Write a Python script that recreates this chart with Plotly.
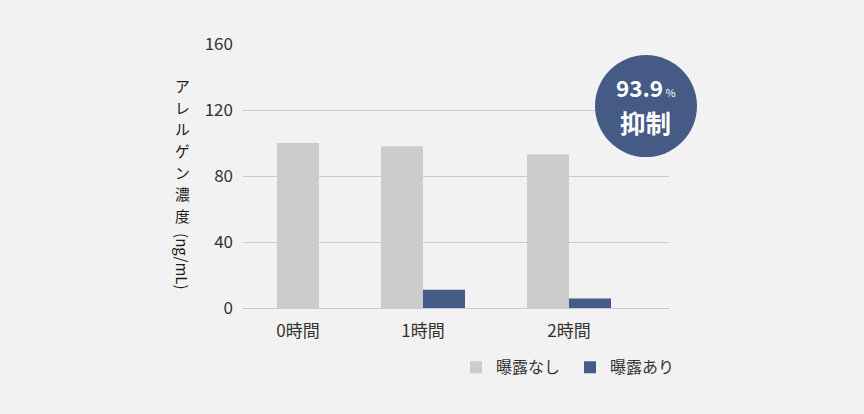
import plotly.graph_objects as go

# ---- data ----
categories = ["0時間", "1時間", "2時間"]
no_exposure = [100, 98, 93]          # 曝露なし
with_exposure = [None, 11, 5.7]      # 曝露あり
series_names = ["曝露なし", "曝露あり"]
y_ticks = [0, 40, 80, 120, 160]
badge_value = "93.9"
badge_unit = "%"
badge_label = "抑制"
y_title_jp = "アレルゲン濃度"
y_title_unit = "(ng/mL)"

# ---- layout constants ----
group_x = [55, 180, 326]   # group anchor positions on the x axis
bar_w = 42
gray_offsets = [-bar_w / 2, -bar_w, -bar_w]
blue_offsets = [0, 0, 0]

FONT = "Noto Sans CJK JP"
GRAY = "#cccccc"
BLUE = "#455a85"
TXT = "#333333"
GRID = "#c9cad3"

PLOT_TOP, PLOT_H = 44, 264   # plot area in pixels (for paper-coord conversion)


def py_to_paper(py):
    return (PLOT_TOP + PLOT_H - py) / PLOT_H


fig = go.Figure()
fig.add_trace(go.Bar(
    x=group_x, y=no_exposure, name=series_names[0],
    width=bar_w, offset=gray_offsets, marker_color=GRAY,
    marker_line_width=0,
))
fig.add_trace(go.Bar(
    x=group_x, y=with_exposure, name=series_names[1],
    width=bar_w, offset=blue_offsets, marker_color=BLUE,
    marker_line_width=0,
))

fig.update_layout(
    width=864, height=414,
    paper_bgcolor="#f2f2f2", plot_bgcolor="#f2f2f2",
    margin=dict(l=243, r=195, t=44, b=106),
    font=dict(family=FONT, color=TXT, size=16),
    barmode="overlay",
    showlegend=True,
    legend=dict(
        orientation="h", x=0.5, xanchor="left", y=-0.16, yanchor="top",
        font=dict(size=16, color=TXT), bgcolor="rgba(0,0,0,0)",
        itemwidth=30, entrywidth=69, entrywidthmode="pixels",
    ),
    xaxis=dict(
        range=[0, 426], tickmode="array", tickvals=group_x, ticktext=categories,
        showgrid=False, zeroline=False, showline=True, linecolor=GRID, linewidth=1,
        ticks="", tickfont=dict(size=17, color=TXT), ticklabelstandoff=8,
        fixedrange=True,
    ),
    yaxis=dict(
        range=[0, 160], tickmode="array", tickvals=y_ticks,
        showgrid=True, gridcolor=GRID, gridwidth=1, zeroline=False,
        showline=False, ticks="", tickfont=dict(size=17, color=TXT),
        ticklabelstandoff=9, fixedrange=True,
    ),
)

# vertical (tategaki) y-axis title: upright Japanese characters, rotated unit
title_x = -0.141
for i, ch in enumerate(y_title_jp):
    fig.add_annotation(
        text=ch, xref="paper", yref="paper",
        x=title_x, y=py_to_paper(85.5 + i * 21.7), xanchor="center", yanchor="middle",
        showarrow=False, font=dict(size=14.8, color="#1a1a1a"),
    )
fig.add_annotation(
    text=y_title_unit, xref="paper", yref="paper", textangle=90,
    x=title_x, y=py_to_paper(261), xanchor="center", yanchor="middle",
    showarrow=False, font=dict(size=15, color="#1a1a1a"),
)

# badge circle
cx, cy, r = 0.946, 0.765, 51
fig.add_shape(
    type="circle", xref="paper", yref="paper", xsizemode="pixel", ysizemode="pixel",
    xanchor=cx, yanchor=cy, x0=-r, x1=r, y0=-r, y1=r,
    fillcolor=BLUE, line_width=0, layer="above",
)
fig.add_annotation(
    text=f"<b>{badge_value}</b><span style='font-size:11px'> {badge_unit}</span>",
    xref="paper", yref="paper", x=cx, y=py_to_paper(87), xanchor="center",
    yanchor="middle", showarrow=False, font=dict(size=22.5, color="white"),
)
fig.add_annotation(
    text=f"<b>{badge_label}</b>",
    xref="paper", yref="paper", x=cx, y=py_to_paper(122), xanchor="center",
    yanchor="middle", showarrow=False, font=dict(size=25.5, color="white"),
)

fig.write_html("out.html")
